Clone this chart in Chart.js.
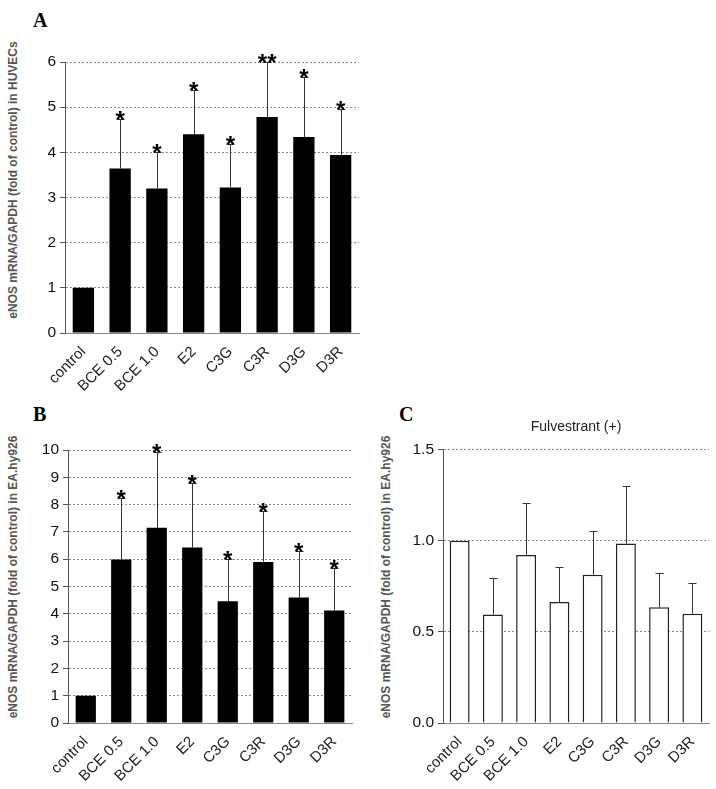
<!DOCTYPE html>
<html>
<head>
<meta charset="utf-8">
<script src="https://cdn.jsdelivr.net/npm/chart.js@4.4.1/dist/chart.umd.min.js"></script>
<style>
  body { margin: 0; background: #fff; }
  #page { position: relative; width: 716px; height: 789px; overflow: hidden; font-family: 'Liberation Sans', Arial, sans-serif; }
  canvas { position: absolute; }
  .letter { position: absolute; font: bold 20px 'Liberation Serif', 'Times New Roman', serif; color: #000; }
  .ytitle { position: absolute; white-space: nowrap; font-weight: bold; font-size: 12px; color: #555;
            transform: translate(-50%, -50%) rotate(-90deg); }
</style>
</head>
<body>
<div id="page">
  <div class="letter" style="left:33px; top:9px;">A</div>
  <div class="letter" style="left:33px; top:403px;">B</div>
  <div class="letter" style="left:399px; top:403px;">C</div>
  <div class="ytitle" style="left:13px; top:180px;">eNOS mRNA/GAPDH (fold of control) in HUVECs</div>
  <div class="ytitle" style="left:13px; top:577px;">eNOS mRNA/GAPDH (fold of control) in EA.hy926</div>
  <div class="ytitle" style="left:386px; top:577px;">eNOS mRNA/GAPDH (fold of control) in EA.hy926</div>
  <canvas id="chartA" width="360" height="395" style="left:0; top:0;"></canvas>
  <canvas id="chartB" width="360" height="394" style="left:0; top:395px;"></canvas>
  <canvas id="chartC" width="360" height="394" style="left:356px; top:395px;"></canvas>
</div>
<script>
'use strict';

// groups on the x axis (same for all three panels)
let categories = ['control', 'BCE 0.5', 'BCE 1.0', 'E2', 'C3G', 'C3R', 'D3G', 'D3R'];

// panel A - HUVECs
let huvecMean = [1.0, 3.64, 3.20, 4.40, 3.22, 4.78, 4.34, 3.94];
let huvecUpper = [null, 4.73, 4.00, 5.39, 4.18, 6.00, 5.66, 4.95];
let huvecStars = ['', '*', '*', '*', '*', '**', '*', '*'];
let huvecTicks = [0, 6, 1];

// panel B - EA.hy926
let eaMean = [1.0, 5.99, 7.15, 6.43, 4.46, 5.90, 4.60, 4.12];
let eaUpper = [null, 8.26, 9.94, 8.79, 6.00, 7.75, 6.31, 5.67];
let eaStars = ['', '*', '*', '*', '*', '*', '*', '*'];
let eaTicks = [0, 10, 1];

// panel C - EA.hy926 with fulvestrant
let fulvMean = [1.0, 0.596, 0.922, 0.664, 0.814, 0.985, 0.635, 0.60];
let fulvUpper = [null, 0.794, 1.21, 0.855, 1.054, 1.30, 0.825, 0.767];
let fulvStars = ['', '', '', '', '', '', '', ''];
let fulvTicks = [0, 1.5, 0.5];

Chart.defaults.font.family = "'Liberation Sans', Arial, sans-serif";
Chart.defaults.color = '#222';

//draw the upper error bar and the stars over each bar
const errorBars = {
    id: 'errorBars',
    afterDatasetsDraw(chart, args, opts) {
        let ctx = chart.ctx;
        let yScale = chart.scales.y;
        let meta = chart.getDatasetMeta(0);
        ctx.save();
        ctx.strokeStyle = '#333';
        ctx.lineWidth = 1;
        meta.data.forEach((bar, i) => {
            let hi = opts.upper[i];
            if (hi == null) return;
            let x = Math.round(bar.x) + 0.5;
            let yTop = Math.round(yScale.getPixelForValue(hi)) + 0.5;
            ctx.beginPath();
            ctx.moveTo(x, bar.y);
            ctx.lineTo(x, yTop);
            ctx.moveTo(x - 4, yTop);
            ctx.lineTo(x + 4, yTop);
            ctx.stroke();
            if (opts.stars[i]) {
                ctx.fillStyle = '#000';
                ctx.font = "bold 24px 'Liberation Sans', Arial, sans-serif";
                ctx.textAlign = 'center';
                ctx.textBaseline = 'alphabetic';
                ctx.fillText(opts.stars[i], bar.x, yTop + 8);
            }
        });
        ctx.restore();
    }
};

function makeChart(id, means, upper, stars, ticks, box) {
    let ctx = document.getElementById(id).getContext('2d');
    let white = box.white;
    return new Chart(ctx, {
        type: 'bar',
        data: {
            labels: categories,
            datasets: [{
                data: means,
                backgroundColor: white ? '#fff' : '#000',
                borderColor: white ? '#222' : '#000',
                borderWidth: white ? 1.5 : 0,
                barPercentage: box.barPct,
                categoryPercentage: 1
            }]
        },
        options: {
            responsive: false,
            animation: false,
            devicePixelRatio: 1,
            layout: { padding: { top: box.top, right: box.right, left: 0, bottom: 0 } },
            plugins: {
                legend: { display: false },
                tooltip: { enabled: false },
                title: box.title ? {
                    display: true,
                    text: box.title,
                    fullSize: false,
                    color: '#222',
                    font: { size: 14, weight: 'normal' },
                    padding: { top: 24, bottom: 14 }
                } : { display: false },
                errorBars: { upper: upper, stars: stars }
            },
            scales: {
                x: {
                    grid: { display: false },
                    border: { display: true, color: '#888', width: 1 },
                    ticks: { minRotation: 45, maxRotation: 45, padding: 2, color: '#222', font: { size: 15 } },
                    afterFit: s => { s.height = box.xh; }
                },
                y: {
                    min: ticks[0],
                    max: ticks[1],
                    grid: { color: '#8a8a8a', lineWidth: 1, tickLength: 5, tickColor: '#555' },
                    border: { display: true, color: '#555', width: 1, dash: [2, 2] },
                    ticks: {
                        stepSize: ticks[2],
                        padding: 4,
                        color: '#111',
                        font: { size: 15.5 },
                        callback: v => ticks[2] < 1 ? v.toFixed(1) : v
                    },
                    afterFit: s => { s.width = box.yw; }
                }
            }
        },
        plugins: [errorBars]
    });
}

makeChart('chartA', huvecMean, huvecUpper, huvecStars, huvecTicks,
    { top: 62, right: 1, xh: 62, yw: 65, barPct: 0.58 });
makeChart('chartB', eaMean, eaUpper, eaStars, eaTicks,
    { top: 55, right: 8, xh: 66, yw: 68, barPct: 0.57 });
makeChart('chartC', fulvMean, fulvUpper, fulvStars, fulvTicks,
    { top: 0, right: 7, xh: 66, yw: 87, barPct: 0.6, white: true, title: 'Fulvestrant (+)' });
</script>
</body>
</html>
